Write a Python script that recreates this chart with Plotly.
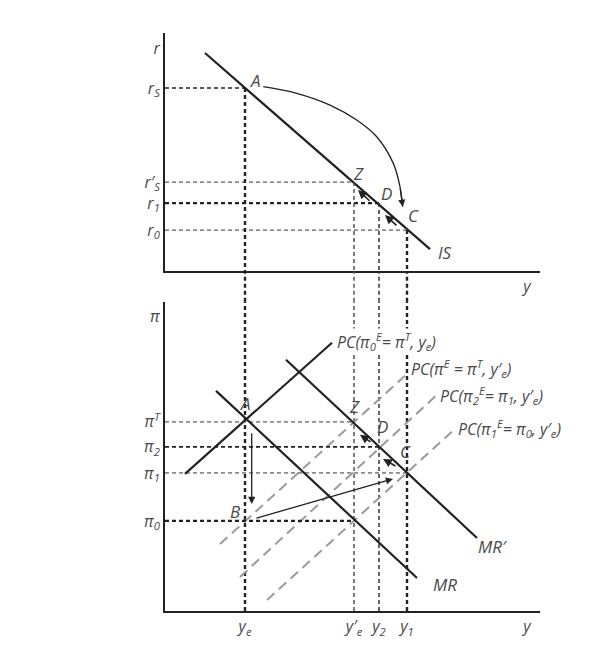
import plotly.graph_objects as go

# output levels, shared horizontal axis of both panels
y_e, y_e_new, y_2, y_1 = 8.0, 18.9, 21.4, 24.2
y_label_pos = 36.2
# real interest rates (top panel)
r_s, r_s_new, r_1, r_0 = 18.3, 8.9, 6.8, 4.1
r_label_pos = 22.3
# inflation (bottom panel)
pi_t, pi_2, pi_1, pi_0 = 18.9, 16.4, 13.8, 9.0
pi_label_pos = 29.4

# IS curve
is_x = [4.0, 26.5]
is_r = [21.8, 2.2]
# curves in the bottom panel
pc0_x = [2.0, 16.7]
pc0_pi = [13.7, 26.8]
mr_x = [5.1, 25.2]
mr_pi = [22.0, 3.3]
mr_new_x = [12.1, 31.2]
mr_new_pi = [25.1, 7.3]
pc_t_x = [5.5, 24.0]
pc_t_pi = [6.7, 23.5]
pc_2_x = [7.5, 27.3]
pc_2_pi = [3.4, 21.7]
pc_1_x = [10.2, 29.0]
pc_1_pi = [1.1, 18.2]

# curved arrow A -> C in the top panel
arc_x = [9.83, 13.17, 16.5, 19.17, 21.17, 22.83, 23.5, 23.77]
arc_r = [18.43, 17.77, 16.6, 15.1, 13.43, 10.77, 8.43, 6.43]

x_max, r_max, pi_max = 37.5, 23.8, 30.9

INK = "#222222"
GREY = "#8c8c8c"
TXT = "#4a4a4a"
FONT = "Open Sans"

fig = go.Figure()


def line(x, y, panel, color=INK, width=2, dash="solid"):
    xa, ya = ("x", "y") if panel == 1 else ("x2", "y2")
    fig.add_trace(go.Scatter(x=x, y=y, mode="lines", xaxis=xa, yaxis=ya,
                             line=dict(color=color, width=width, dash=dash),
                             hoverinfo="skip", showlegend=False))


# top panel: IS and guide lines
line(is_x, is_r, 1, INK, 2.2)
line([0, y_e], [r_s, r_s], 1, INK, 1.6, "4px,3px")
line([0, y_e_new], [r_s_new, r_s_new], 1, GREY, 1.8, "4px,3px")
line([0, y_2], [r_1, r_1], 1, INK, 2.2, "4px,3px")
line([0, y_1], [r_0, r_0], 1, GREY, 1.8, "4px,3px")

verticals = [(y_e, r_s, INK, 2.4), (y_e_new, r_s_new, "#555555", 1.5),
             (y_2, r_1, "#333333", 1.5), (y_1, r_0, INK, 2.4)]
for vx, vr, col, w in verticals:
    line([vx, vx], [vr, 0], 1, col, w, "4px,3px")
    line([vx, vx], [0, pi_max + 2], 2, col, w, "4px,3px")
    fig.add_shape(type="line", xref="x", yref="paper", x0=vx, x1=vx,
                  y0=0.535, y1=0.588, line=dict(color=col, width=w, dash="4px,3px"))

line(arc_x, arc_r, 1, INK, 1.3)
fig.update_traces(selector=-1, line_shape="spline")

# bottom panel
line(pc_t_x, pc_t_pi, 2, "#9a9a9a", 2, "10px,6px")
line(pc_2_x, pc_2_pi, 2, "#9a9a9a", 2, "10px,6px")
line(pc_1_x, pc_1_pi, 2, "#9a9a9a", 2, "10px,6px")
line([0, y_e_new], [pi_t, pi_t], 2, GREY, 1.8, "4px,3px")
line([0, y_2], [pi_2, pi_2], 2, INK, 1.6, "4px,3px")
line([0, y_1], [pi_1, pi_1], 2, GREY, 1.8, "4px,3px")
line([0, y_e_new], [pi_0, pi_0], 2, INK, 2.2, "4px,3px")
line(pc0_x, pc0_pi, 2, INK, 2.2)
line(mr_x, mr_pi, 2, INK, 2.2)
line(mr_new_x, mr_new_pi, 2, INK, 2.2)

annotations = []


def arrow(x0, y0, x1, y1, panel, width=1.3):
    xa, ya = ("x", "y") if panel == 1 else ("x2", "y2")
    annotations.append(dict(x=x1, y=y1, ax=x0, ay=y0, xref=xa, yref=ya,
                            axref=xa, ayref=ya, text="", showarrow=True,
                            arrowhead=2, arrowsize=1.1, arrowwidth=width,
                            arrowcolor=INK))


arrow(arc_x[-2], arc_r[-2], arc_x[-1], arc_r[-1], 1)
arrow(20.6, 6.9, 19.3, 8.1, 1, 1.6)
arrow(23.3, 4.43, 22.0, 5.6, 1, 1.6)
arrow(8.67, 17.9, 8.67, 10.7, 2)
arrow(9.0, 9.24, 22.8, 13.2, 2)
arrow(20.7, 16.8, 19.5, 17.6, 2, 1.6)
arrow(23.2, 14.4, 21.8, 15.2, 2, 1.6)


def label(x, y, text, panel, size=17, xanchor="center", bg=None):
    xa, ya = ("x", "y") if panel == 1 else ("x2", "y2")
    annotations.append(dict(x=x, y=y, xref=xa, yref=ya, text=text, showarrow=False,
                            xanchor=xanchor, bgcolor=bg, borderpad=0,
                            font=dict(family=FONT, size=size, color=TXT)))


label(9.0, 19.1, "<i>A</i>", 1)
label(19.3, 9.8, "<i>Z</i>", 1)
label(22.1, 7.8, "<i>D</i>", 1)
label(24.8, 5.6, "<i>C</i>", 1)
label(27.2, 1.9, "<i>IS</i>", 1, xanchor="left")

label(8.0, 20.7, "<i>A</i>", 2)
label(18.9, 20.4, "<i>Z</i>", 2)
label(21.7, 18.4, "<i>D</i>", 2)
label(24.0, 15.9, "<i>C</i>", 2)
label(7.0, 9.9, "<i>B</i>", 2)
label(31.2, 6.4, "<i>MR′</i>", 2, xanchor="left")
label(26.7, 2.6, "<i>MR</i>", 2, xanchor="left")
label(17.1, 26.9, "<i>PC(π<sub>0</sub><sup>E</sup>= π<sup>T</sup>, y<sub>e</sub>)</i>", 2, 16, "left", "white")
label(24.5, 24.2, "<i>PC(π<sup>E</sup> = π<sup>T</sup>, y′<sub>e</sub>)</i>", 2, 16, "left")
label(27.4, 21.5, "<i>PC(π<sub>2</sub><sup>E</sup>= π<sub>1</sub>, y′<sub>e</sub>)</i>", 2, 16, "left")
label(29.2, 18.2, "<i>PC(π<sub>1</sub><sup>E</sup>= π<sub>0</sub>, y′<sub>e</sub>)</i>", 2, 16, "left")

tickfont = dict(family=FONT, size=16, color=TXT)
axis_common = dict(showline=True, linecolor=INK, linewidth=2, zeroline=False,
                   showgrid=False, ticks="", tickfont=tickfont, fixedrange=True)

# the page adds an 8px body margin, so the figure is placed 8px in and up
fig.update_layout(
    width=584, height=646,
    margin=dict(l=157, r=52, t=25, b=43),
    paper_bgcolor="white", plot_bgcolor="white",
    showlegend=False,
    annotations=annotations,
    xaxis=dict(axis_common, domain=[0, 1], anchor="y", range=[0, x_max],
               tickvals=[y_label_pos], ticktext=["<i>y</i>"]),
    yaxis=dict(axis_common, domain=[0.588, 1], anchor="x", range=[0, r_max],
               tickvals=[r_label_pos, r_s, r_s_new, r_1, r_0],
               ticktext=["<i>r</i>", "<i>r<sub>S</sub></i>", "<i>r′<sub>S</sub></i>",
                         "<i>r<sub>1</sub></i>", "<i>r<sub>0</sub></i>"]),
    xaxis2=dict(axis_common, domain=[0, 1], anchor="y2", range=[0, x_max],
                tickvals=[y_e, y_e_new, y_2, y_1, y_label_pos],
                ticktext=["<i>y<sub>e</sub></i>", "<i>y′<sub>e</sub></i>", "<i>y<sub>2</sub></i>",
                          "<i>y<sub>1</sub></i>", "<i>y</i>"]),
    yaxis2=dict(axis_common, domain=[0, 0.535], anchor="x2", range=[0, pi_max],
                tickvals=[pi_label_pos, pi_t, pi_2, pi_1, pi_0],
                ticktext=["<i>π</i>", "<i>π<sup>T</sup></i>", "<i>π<sub>2</sub></i>",
                          "<i>π<sub>1</sub></i>", "<i>π<sub>0</sub></i>"]),
)

fig.write_html("out.html")
